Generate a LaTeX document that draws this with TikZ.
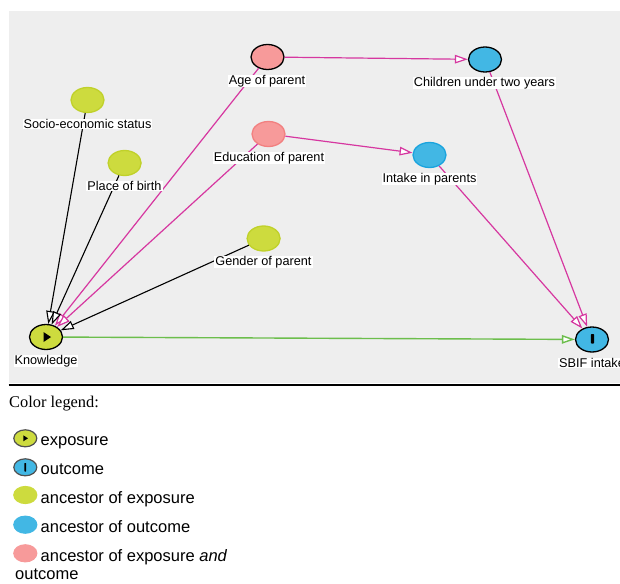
\documentclass[tikz,border=0pt]{standalone}
\usepackage{fontspec}
\setmainfont{Liberation Serif}
\setsansfont{Liberation Sans}
\usetikzlibrary{arrows.meta,shapes.geometric}
\definecolor{panel}{RGB}{238,238,238}
\definecolor{expf}{RGB}{205,219,62}
\definecolor{expd}{RGB}{192,209,42}
\definecolor{outf}{RGB}{66,183,228}
\definecolor{outd}{RGB}{26,164,222}
\definecolor{pinkf}{RGB}{247,154,154}
\definecolor{pinkd}{RGB}{242,128,128}
\definecolor{epink}{RGB}{214,55,160}
\definecolor{egreen}{RGB}{108,190,76}
\definecolor{icond}{RGB}{80,80,80}
\tikzset{
  ell/.style={ellipse, minimum width=33pt, minimum height=25pt, inner sep=0pt, line width=1.3pt},
  icon/.style={ellipse, minimum width=23pt, minimum height=17pt, inner sep=0pt, line width=1.2pt},
  lab/.style={fill=white, inner xsep=1pt, inner ysep=0.5pt, font=\sffamily\fontsize{12.7}{14}\selectfont},
  legtext/.style={anchor=base west, inner sep=0pt, font=\sffamily\fontsize{16.5}{18.5}\selectfont},
  tipw/.tip={Triangle[length=13pt,width=8.5pt,fill=white]},
  pe/.style={draw=epink, line width=1.2pt, -tipw},
  be/.style={draw=black, line width=1.1pt, -tipw},
  ge/.style={draw=egreen, line width=1.4pt, -tipw},
}
\begin{document}
\begin{tikzpicture}[x=1pt,y=-1pt]
\useasboundingbox (0,0) rectangle (620,583);
\fill[panel] (8.7,11) rectangle (620,383);
\draw[line width=1.3pt] (8.7,385) -- (620,385);
% nodes
\node[ell, fill=pinkf, draw=black] (age) at (267.5,57) {};
\node[ell, fill=outf, draw=black] (chi) at (485,59.5) {};
\node[ell, fill=expf, draw=expd] (ses) at (87.5,100) {};
\node[ell, fill=pinkf, draw=pinkd] (edu) at (268.5,134) {};
\node[ell, fill=outf, draw=outd] (int) at (429.5,155) {};
\node[ell, fill=expf, draw=expd] (pob) at (124.6,163) {};
\node[ell, fill=expf, draw=expd] (gen) at (263.6,238.5) {};
\node[ell, fill=expf, draw=black] (kn) at (46,337) {};
\node[ell, fill=outf, draw=black] (sb) at (592,339.5) {};
\fill[black] (43.5,332) -- (43.5,342) -- (51,337) -- cycle;
\fill[black, rounded corners=0.8pt] (590.8,334) rectangle (594.2,343.5);
% edges
\draw[pe] (age) -- (chi);
\draw[pe] (age) -- (kn);
\draw[pe] (edu) -- (int);
\draw[pe] (edu) -- (kn);
\draw[pe] (chi) -- (sb);
\draw[pe] (int) -- (sb);
\draw[be] (ses) -- (kn);
\draw[be] (pob) -- (kn);
\draw[be] (gen) -- (kn);
\draw[ge] (kn) -- (sb);
% labels
\node[lab] (agel) at (267,81) {Age of parent};
\node[lab] (chil) at (484.5,83) {Children under two years};
\node[lab] (sesl) at (87.5,124) {Socio-economic status};
\node[lab] (edul) at (269,158) {Education of parent};
\node[lab] (intl) at (429.5,179) {Intake in parents};
\node[lab] (pobl) at (124.5,186) {Place of birth};
\node[lab] (genl) at (263.5,262) {Gender of parent};
\node[lab] (knl) at (46,361) {Knowledge};
\node[lab, anchor=west] (sbl) at (558,363) {SBIF intake};
% legend
\node[anchor=base west, inner sep=0pt, font=\rmfamily\fontsize{16.4}{18}\selectfont] (legt) at (9,407) {Color legend:};
\node[icon, fill=expf, draw=icond] (i1) at (25.3,438.3) {};
\fill[black] (23.3,435.3) -- (23.3,441.3) -- (28,438.3) -- cycle;
\node[icon, fill=outf, draw=icond] (i2) at (25.3,467.3) {};
\fill[black, rounded corners=0.5pt] (24.4,463) rectangle (26.2,471.6);
\node[icon, fill=expf, draw=expf] (i3) at (25.3,495) {};
\node[icon, fill=outf, draw=outf] (i4) at (25.3,524.7) {};
\node[icon, fill=pinkf, draw=pinkf] (i5) at (25.3,553.3) {};
\node[legtext] (t1) at (40.5,445) {exposure};
\node[legtext] (t2) at (40.5,474) {outcome};
\node[legtext] (t3) at (40.5,503) {ancestor of exposure};
\node[legtext] (t4) at (40.5,532) {ancestor of outcome};
\node[legtext] (t5) at (40.5,561) {ancestor of exposure \textit{and}};
\node[legtext] (t6) at (15,579.5) {outcome};
\end{tikzpicture}
\end{document}
